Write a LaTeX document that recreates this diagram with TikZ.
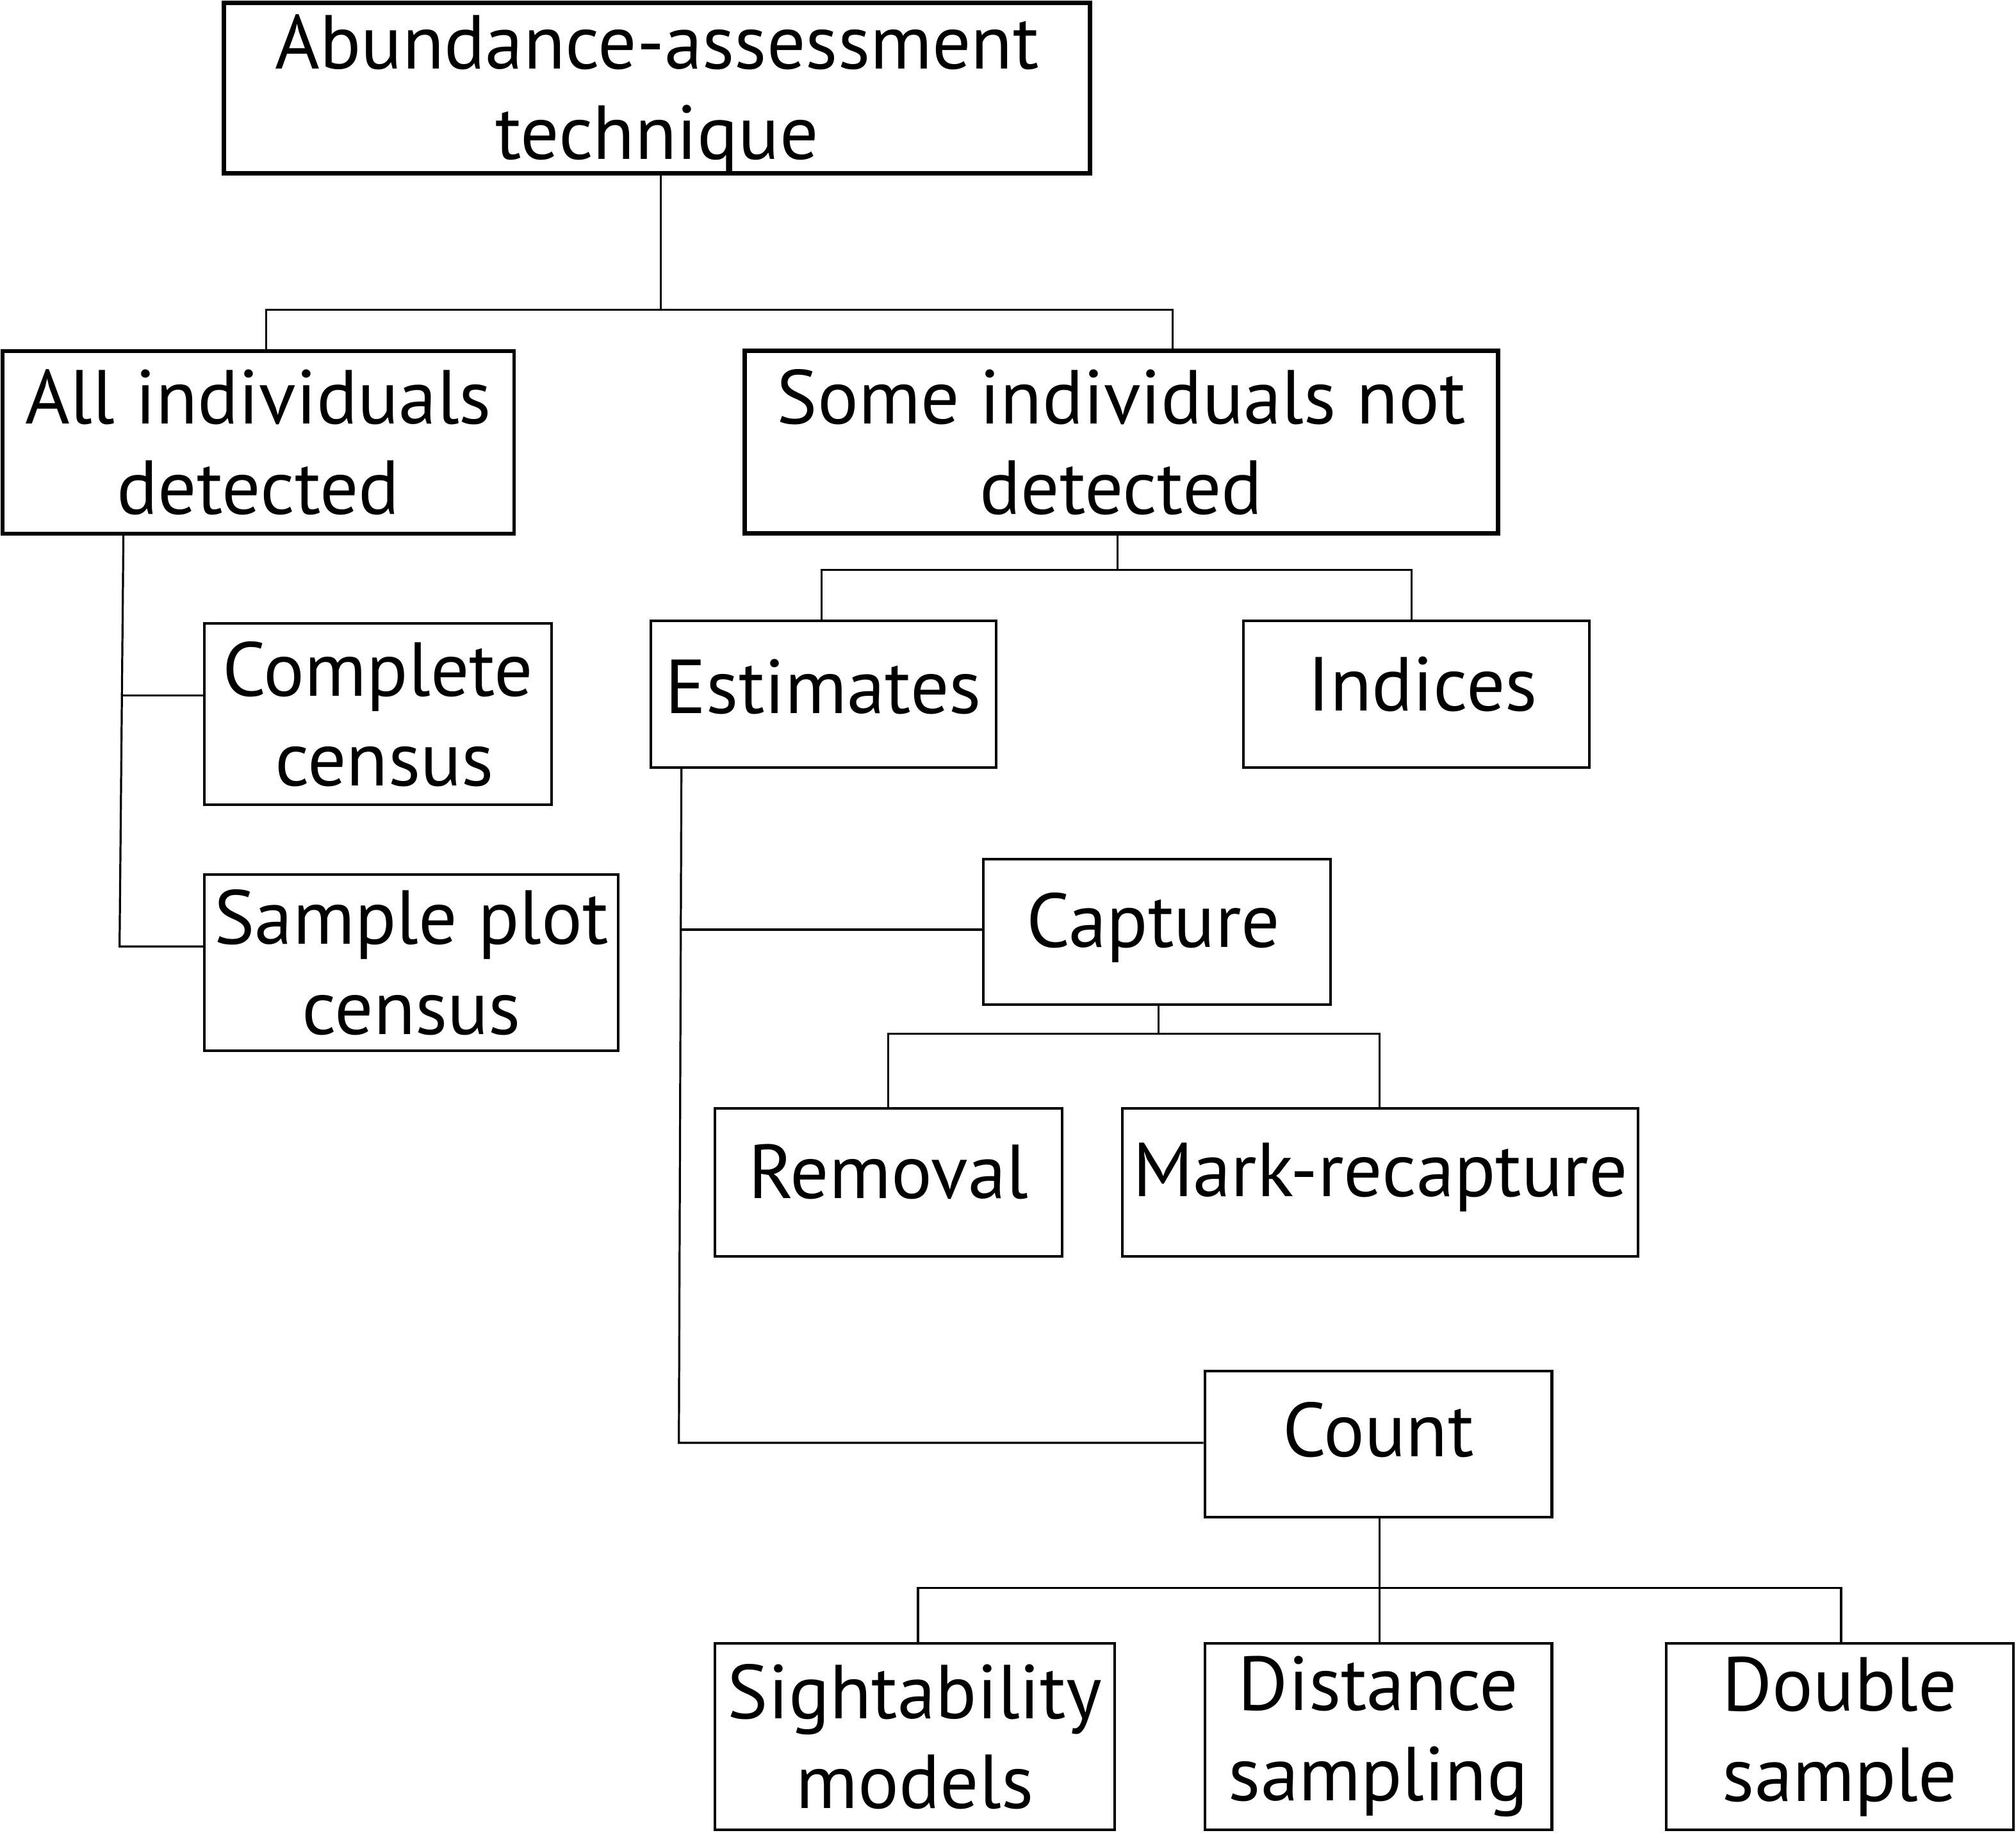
\documentclass[tikz,border=0pt]{standalone}
\usepackage{fontspec}
\setmainfont{PT Sans}
\newcommand{\upby}[2]{\raisebox{#1}[\height][\depth]{#2}}
\begin{document}
\begin{tikzpicture}[x=1pt,y=-1pt,
  txt/.style={inner sep=0pt,align=center,font=\fontsize{59.5}{70}\selectfont},
  box/.style={txt,draw,line width=2pt},
  thick box/.style={box,line width=3.5pt},
  conn/.style={line width=1.6pt}]
\useasboundingbox (0,0) rectangle (1568,1425);
% boxes
\node[thick box,minimum width=674pt,minimum height=133pt,
  label={[txt,name=toptext,yshift=-5pt]center:{Abundance-assessment\\technique}}] (top) at (511,68.5) {};
\node[box,line width=2.6pt,minimum width=398pt,minimum height=142pt] (all) at (201,344) {All individuals\\detected};
\node[thick box,minimum width=586pt,minimum height=142pt] (some) at (872,344) {Some individuals not\\detected};
\node[box,minimum width=269pt,minimum height=114pt] (est) at (640.5,540) {\upby{6pt}{Estimates}};
\node[box,minimum width=269pt,minimum height=114pt] (ind) at (1101.5,540) {\upby{8pt}{\hspace*{10pt}Indices}};
\node[box,minimum width=270pt,minimum height=141pt] (comp) at (294,555.5) {Complete\\\hspace*{10pt}census};
\node[box,minimum width=322pt,minimum height=137pt] (samp) at (320,748.5) {Sample plot\\census};
\node[box,minimum width=270pt,minimum height=113pt] (cap) at (900,724.5) {\upby{3pt}{Capture\hspace*{6pt}}};
\node[box,minimum width=270pt,minimum height=115pt] (rem) at (691,919.5) {\upby{8pt}{Removal}};
\node[box,minimum width=401pt,minimum height=115pt] (mark) at (1073.5,919.5) {\upby{4pt}{Mark-recapture}};
\node[box,minimum width=270pt,minimum height=114pt] (count) at (1072,1123) {\upby{11pt}{Count}};
\node[box,minimum width=311pt,minimum height=145pt] (sight) at (711.5,1350.5) {Sightability\\models};
\node[box,minimum width=270pt,minimum height=145pt] (dist) at (1072,1350.5) {Distance\\sampling};
\node[box,minimum width=270pt,minimum height=145pt] (dbl) at (1431,1350.5) {Double\\sample};
% junction coordinates
\coordinate (t0) at (514,241);
\coordinate (b1) at (207,241);
\coordinate (b2) at (912,241);
\coordinate (s0) at (869,443);
\coordinate (s1) at (639,443);
\coordinate (s2) at (1098,443);
\coordinate (aT) at (96,415);
\coordinate (aM) at (95.4,541);
\coordinate (aB) at (93,736);
\coordinate (eT) at (530,597);
\coordinate (eM) at (529.5,723);
\coordinate (eB) at (528,1122);
\coordinate (c0) at (901,804);
\coordinate (c1) at (691,804);
\coordinate (c2) at (1073,804);
\coordinate (n0) at (1073,1235);
\coordinate (n1) at (714,1235);
\coordinate (n2) at (1432,1235);
% connectors
\draw[conn] (top.south -| t0) -- (t0);
\draw[conn] (b1 |- all.north) -- (b1) -- (b2) -- (b2 |- some.north);
\draw[conn] (some.south -| s0) -- (s0);
\draw[conn] (s1 |- est.north) -- (s1) -- (s2) -- (s2 |- ind.north);
\draw[conn] (aT) -- (aB) -- (samp.west |- aB);
\draw[conn] (aM) -- (comp.west |- aM);
\draw[conn] (eT) -- (eB) -- (count.west |- eB);
\draw[conn] (eM) -- (cap.west |- eM);
\draw[conn] (cap.south -| c0) -- (c0);
\draw[conn] (c1 |- rem.north) -- (c1) -- (c2) -- (c2 |- mark.north);
\draw[conn] (count.south -| n0) -- (n0 |- dist.north);
\draw[conn] (n1 |- sight.north) -- (n1) -- (n2) -- (n2 |- dbl.north);
\end{tikzpicture}
\end{document}
